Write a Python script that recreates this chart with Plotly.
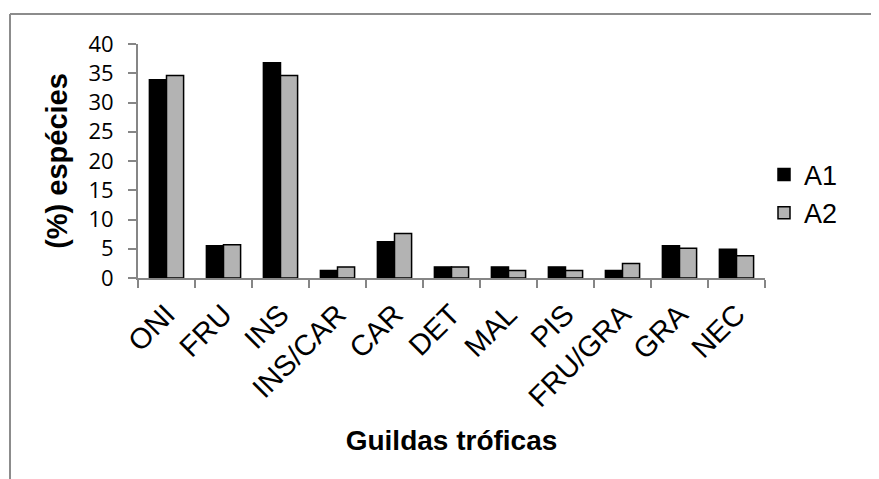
import plotly.graph_objects as go

categories = ["ONI", "FRU", "INS", "INS/CAR", "CAR", "DET", "MAL", "PIS", "FRU/GRA", "GRA", "NEC"]
a1 = [33.9, 5.5, 36.8, 1.3, 6.2, 1.9, 1.9, 1.9, 1.3, 5.5, 4.9]
a2 = [34.6, 5.7, 34.6, 1.9, 7.6, 1.9, 1.3, 1.3, 2.5, 5.1, 3.8]
y_ticks = [0, 5, 10, 15, 20, 25, 30, 35, 40]

# page body has an 8px margin, so figure coords = screen coords - 8
W, H = 871, 471
L, T = 130, 36
pw, ph = 627, 234
R, B = W - L - pw, H - T - ph

FONT = "Liberation Sans"

fig = go.Figure()
fig.add_trace(go.Bar(x=categories, y=a1, name="A1",
                     marker=dict(color="#000000", line=dict(color="#000000", width=1.5))))
fig.add_trace(go.Bar(x=categories, y=a2, name="A2",
                     marker=dict(color="#b3b3b3", line=dict(color="#000000", width=1.5))))

axis_col = "#868686"
fig.update_layout(
    width=W, height=H,
    margin=dict(l=L, r=R, t=T, b=B, autoexpand=False),
    paper_bgcolor="white", plot_bgcolor="white",
    barmode="group", bargap=0.4, bargroupgap=0,
    font=dict(family=FONT, size=26, color="black"),
    legend=dict(x=(756 - L) / pw, xanchor="left", y=(270 - 186) / ph, yanchor="middle",
                font=dict(size=27, family=FONT), itemwidth=30,
                bgcolor="rgba(0,0,0,0)"),
    showlegend=True,
)
fig.update_xaxes(
    type="category", tickson="boundaries", ticks="outside", ticklen=8, tickcolor=axis_col,
    tickwidth=1.5, ticklabelstandoff=6,
    showline=True, linecolor=axis_col, linewidth=2, showgrid=False,
    tickangle=-45, tickfont=dict(size=29, family=FONT),
    title=dict(text="<b>Guildas tróficas</b>", font=dict(size=28, family=FONT), standoff=18),
)
fig.update_yaxes(
    range=[0, 40], tickvals=y_ticks, ticks="outside", ticklen=8, tickcolor=axis_col,
    tickwidth=1.5, ticklabelstandoff=10,
    showline=True, linecolor=axis_col, linewidth=2, showgrid=False, zeroline=False,
    tickfont=dict(size=22, family="Open Sans"),
    title=dict(text="<b>(%) espécies</b>", font=dict(size=29, family=FONT), standoff=12),
)

xl = (2 - L) / pw
yt = 1 + (T - 6) / ph
fig.add_shape(type="line", xref="paper", yref="paper", x0=xl, x1=xl, y0=yt, y1=-1.0,
              line=dict(color="#8c8c8c", width=2))
fig.add_shape(type="line", xref="paper", yref="paper", x0=xl, x1=1.3, y0=yt, y1=yt,
              line=dict(color="#8c8c8c", width=2))

fig.write_html("out.html")
